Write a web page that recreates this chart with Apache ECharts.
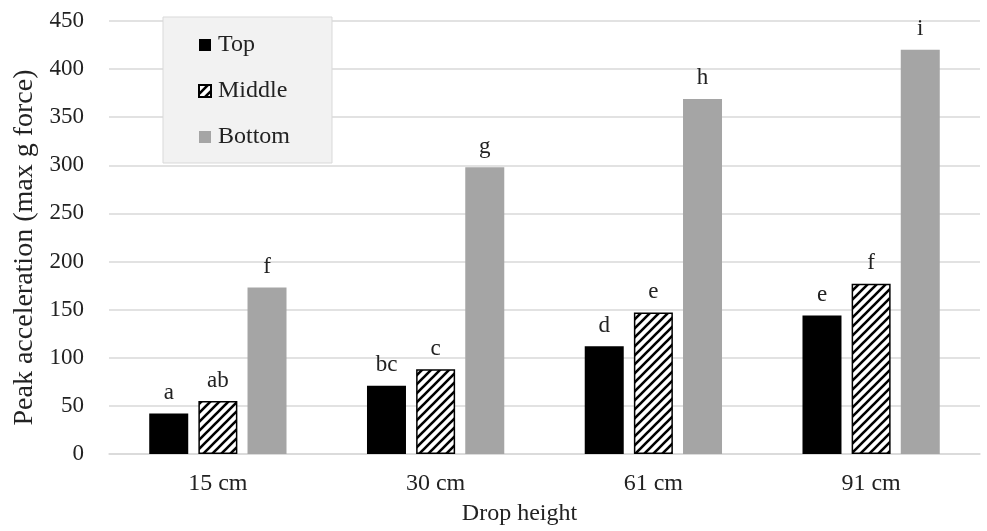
<!DOCTYPE html>
<html>
<head>
<meta charset="utf-8">
<script src="https://cdn.jsdelivr.net/npm/echarts@6/dist/echarts.min.js"></script>
<style>
  html, body { margin: 0; padding: 0; background: #fff; }
  #chart { width: 987px; height: 531px; }
</style>
</head>
<body>
<div id="chart"></div>
<script>
// 数据
const categories = ['15 cm', '30 cm', '61 cm', '91 cm'];
const topValues = [42, 71, 112, 144];
const middleValues = [55, 88, 147, 177];
const bottomValues = [173, 298, 369, 420];
const topLetters = ['a', 'bc', 'd', 'e'];
const middleLetters = ['ab', 'c', 'e', 'f'];
const bottomLetters = ['f', 'g', 'h', 'i'];

const FONT = '"Liberation Serif", "DejaVu Serif", serif';
const TEXT = '#222';

// 斜线填充
function makeHatch() {
    const s = 9;
    const c = document.createElement('canvas');
    c.width = s; c.height = s;
    const ctx = c.getContext('2d');
    ctx.fillStyle = '#fff';
    ctx.fillRect(0, 0, s, s);
    ctx.strokeStyle = '#000';
    ctx.lineWidth = 2.6;
    ctx.beginPath();
    ctx.moveTo(-2, s + 2); ctx.lineTo(s + 2, -2);
    ctx.moveTo(-2, 2); ctx.lineTo(2, -2);
    ctx.moveTo(s - 2, s + 2); ctx.lineTo(s + 2, s - 2);
    ctx.stroke();
    return c;
}

function letterLabel(letters) {
    return {
        show: true,
        position: 'top',
        distance: 9,
        fontFamily: FONT,
        fontSize: 23,
        color: TEXT,
        formatter: p => letters[p.dataIndex]
    };
}

const chart = echarts.init(document.getElementById('chart'));
chart.setOption({
    animation: false,
    grid: { left: 109, right: 7, top: 21, bottom: 76 },
    legend: {
        orient: 'vertical',
        left: 163,
        top: 17,
        padding: [16, 42, 14, 35],
        itemGap: 22,
        itemWidth: 12,
        itemHeight: 12,
        icon: 'rect',
        backgroundColor: '#f2f2f2',
        borderColor: '#d9d9d9',
        borderWidth: 1,
        textStyle: { fontFamily: FONT, fontSize: 24, color: TEXT, padding: [0, 0, 0, 2] },
        data: ['Top', 'Middle', 'Bottom']
    },
    xAxis: {
        type: 'category',
        data: categories,
        name: 'Drop height',
        nameLocation: 'middle',
        nameGap: 48,
        nameTextStyle: { fontFamily: FONT, fontSize: 24, color: TEXT, padding: [0, 50, 0, 0] },
        axisLine: { lineStyle: { color: '#d9d9d9', width: 1.5 } },
        axisTick: { show: false },
        axisLabel: { fontFamily: FONT, fontSize: 24, color: TEXT, margin: 18 }
    },
    yAxis: {
        type: 'value',
        min: 0,
        max: 450,
        interval: 50,
        name: 'Peak acceleration (max g force)',
        nameLocation: 'middle',
        nameGap: 68,
        nameTextStyle: { fontFamily: FONT, fontSize: 28, color: TEXT, padding: [0, 20, 0, 0] },
        axisLine: { show: false },
        axisTick: { show: false },
        axisLabel: { fontFamily: FONT, fontSize: 23, color: TEXT, margin: 25 },
        splitLine: { lineStyle: { color: '#d9d9d9', width: 1.5 } }
    },
    series: [
        {
            name: 'Top',
            type: 'bar',
            data: topValues,
            barWidth: 39,
            barGap: '26%',
            itemStyle: { color: '#000' },
            label: letterLabel(topLetters)
        },
        {
            name: 'Middle',
            type: 'bar',
            data: middleValues,
            barWidth: 39,
            barGap: '26%',
            itemStyle: {
                color: { image: makeHatch(), repeat: 'repeat' },
                borderColor: '#000',
                borderWidth: 1.5
            },
            label: letterLabel(middleLetters)
        },
        {
            name: 'Bottom',
            type: 'bar',
            data: bottomValues,
            barWidth: 39,
            barGap: '26%',
            itemStyle: { color: '#a5a5a5' },
            label: letterLabel(bottomLetters)
        }
    ]
});
</script>
</body>
</html>
